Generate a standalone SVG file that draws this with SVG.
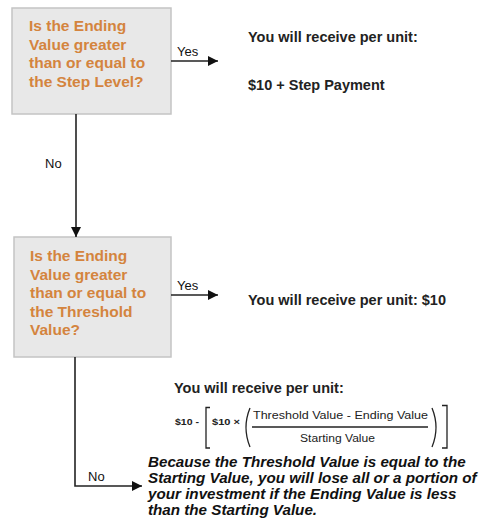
<svg xmlns="http://www.w3.org/2000/svg" width="490" height="523" viewBox="0 0 490 523">
<defs>
<marker id="ah" viewBox="0 0 10 10" refX="10" refY="5" markerWidth="10" markerHeight="10" markerUnits="userSpaceOnUse" orient="auto">
<path d="M0,0 L10,5 L0,10 Z" fill="#111"/>
</marker>
<style>
.box{fill:#E8E8E8;stroke:#C4C4C4;stroke-width:1.5}
.q{font-family:"Liberation Sans",Arial,sans-serif;font-weight:bold;font-size:15.5px;fill:#D4843E}
.t{font-family:"Liberation Sans",Arial,sans-serif;font-weight:bold;font-size:14.5px;fill:#222}
.lbl{font-family:"Liberation Sans",Arial,sans-serif;font-size:13px;fill:#111}
.f{font-family:"Liberation Sans",Arial,sans-serif;font-size:10px;fill:#222}
.fb{font-family:"Liberation Sans",Arial,sans-serif;font-weight:bold;font-size:9px;fill:#222}
.it{font-family:"Liberation Sans",Arial,sans-serif;font-weight:bold;font-style:italic;font-size:15.2px;fill:#111}
.c{fill:none;stroke:#222;stroke-width:1.6}
.b{fill:none;stroke:#222;stroke-width:1.3}
</style>
</defs>
<rect width="490" height="523" fill="#fff"/>
<g id="decision1">
<rect class="box" x="12" y="8" width="159" height="106"/>
<text class="q" x="29" y="31">Is the Ending</text>
<text class="q" x="29" y="49.5">Value greater</text>
<text class="q" x="29" y="68">than or equal to</text>
<text class="q" x="29" y="86.5">the Step Level?</text>
</g>
<g id="result1">
<text class="t" x="248" y="42">You will receive per unit:</text>
<text class="t" x="248" y="90">$10 + Step Payment</text>
</g>
<g id="decision2">
<rect class="box" x="14" y="237" width="157" height="120"/>
<text class="q" x="30" y="261">Is the Ending</text>
<text class="q" x="30" y="279.5">Value greater</text>
<text class="q" x="30" y="298">than or equal to</text>
<text class="q" x="30" y="316.5">the Threshold</text>
<text class="q" x="30" y="335">Value?</text>
</g>
<g id="result2">
<text class="t" x="248" y="305">You will receive per unit: $10</text>
</g>
<g id="result3">
<text class="t" x="174" y="393">You will receive per unit:</text>
<text class="fb" x="175" y="425" textLength="24" lengthAdjust="spacingAndGlyphs">$10 -</text>
<path class="b" d="M210,407.5 L206,407.5 L206,448 L210,448"/>
<text class="fb" x="212" y="425" textLength="28" lengthAdjust="spacingAndGlyphs">$10 ×</text>
<path class="b" d="M250,408 Q242,427.5 250,447"/>
<text class="f" x="253" y="419" textLength="175" lengthAdjust="spacingAndGlyphs">Threshold Value - Ending Value</text>
<line class="b" x1="252" y1="427" x2="428" y2="427" stroke-width="1.5"/>
<text class="f" x="300" y="442" textLength="75" lengthAdjust="spacingAndGlyphs">Starting Value</text>
<path class="b" d="M432,408 Q440,427.5 432,447"/>
<path class="b" d="M442,405.5 L447,405.5 L447,448 L442,448"/>
<text class="it" x="148" y="467">Because the Threshold Value is equal to the</text>
<text class="it" x="148" y="483">Starting Value, you will lose all or a portion of</text>
<text class="it" x="148" y="499">your investment if the Ending Value is less</text>
<text class="it" x="148" y="515">than the Starting Value.</text>
</g>
<g id="connectors">
<line class="c" x1="171" y1="61" x2="218" y2="61" marker-end="url(#ah)"/>
<text class="lbl" x="177" y="56">Yes</text>
<line class="c" x1="76" y1="114" x2="76" y2="237" marker-end="url(#ah)"/>
<text class="lbl" x="45" y="168">No</text>
<line class="c" x1="171" y1="295" x2="218" y2="295" marker-end="url(#ah)"/>
<text class="lbl" x="177" y="290">Yes</text>
<polyline class="c" points="75,357 75,486 142,486" marker-end="url(#ah)"/>
<text class="lbl" x="88" y="481">No</text>
</g>
</svg>
